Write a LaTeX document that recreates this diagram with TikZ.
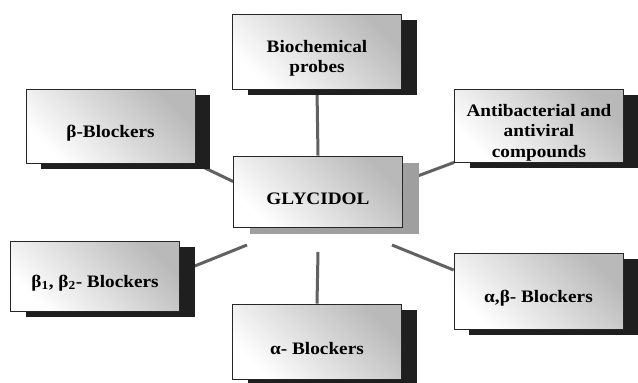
\documentclass[tikz,border=0pt]{standalone}
\usepackage{fontspec}
\setmainfont{Liberation Serif}[FakeStretch=1.1]
\usetikzlibrary{shadows,calc,backgrounds}
\begin{document}
\begin{tikzpicture}[x=1pt,y=-1pt,
  boxnode/.style={draw=black!85, line width=0.8pt, top color=gray!55, bottom color=white, shading angle=-45,
    minimum width=169pt, inner sep=0pt},
  darkshadow/.style={drop shadow={shadow xshift=15pt, shadow yshift=-6pt, fill=black!88, opacity=1}},
  lightshadow/.style={drop shadow={shadow xshift=16pt, shadow yshift=-7pt, fill=gray!75, opacity=1}},
  lbl/.style={align=center, font=\bfseries\fontsize{17.5}{20.5}\selectfont, yshift=-7pt, inner sep=0pt},
  link/.style={draw=black!62, line width=3pt}
]
\useasboundingbox (0,0) rectangle (638,383);

\node[boxnode, darkshadow, minimum height=75pt, label={[lbl]center:{Biochemical\\probes}}] (bio) at (317,51.5) {};
\node[boxnode, darkshadow, minimum height=74pt, label={[lbl]center:β-Blockers}] (bb) at (110.5,126) {};
\node[boxnode, darkshadow, minimum height=73pt, label={[lbl]center:{Antibacterial and\\antiviral\\compounds}}] (anti) at (539,125.5) {};
\node[boxnode, lightshadow, minimum height=71pt, label={[lbl]center:GLYCIDOL}] (gly) at (318,191.5) {};
\node[boxnode, darkshadow, minimum height=70pt, label={[lbl]center:{β\textsubscript{1}, β\textsubscript{2}- Blockers}}] (b12) at (95,276) {};
\node[boxnode, darkshadow, minimum height=76pt, label={[lbl]center:{α,β- Blockers}}] (ab) at (538.5,291) {};
\node[boxnode, darkshadow, minimum height=75pt, label={[lbl]center:α- Blockers}] (a) at (317,341.5) {};

\coordinate (e1) at (247,245);
\coordinate (e2) at (392,245);
\coordinate (e3) at (318,252);

\begin{scope}[on background layer]
\fill[white] (0,0) rectangle (638,383);
\draw[link] (bio.south) -- (gly.north);
\draw[link] (bb.south east) -- ($(gly.west)+(0,-10)$);
\draw[link] (anti.south west) -- ($(gly.east)+(0,-10)$);
\draw[link] ($(b12.east)+(0,-4)$) -- (e1);
\draw[link] (e2) -- ($(ab.west)+(0,-21)$);
\draw[link] (e3) -- (a.north);
\end{scope}
\end{tikzpicture}
\end{document}
